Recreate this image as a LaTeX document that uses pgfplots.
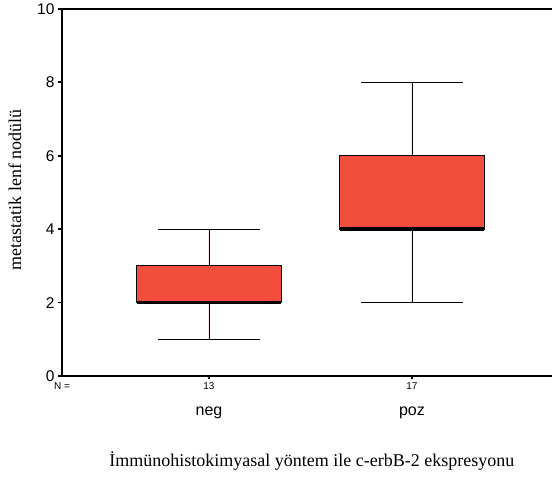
\documentclass[border=0pt]{standalone}
\usepackage{fontspec}
\setmainfont{Liberation Serif}
\setsansfont{Liberation Sans}
\usepackage{pgfplots}
\pgfplotsset{compat=1.18}
\usepgfplotslibrary{statistics}
\definecolor{boxred}{RGB}{242,78,60}
\begin{document}
\begin{tikzpicture}
\begin{axis}[
 at={(0,0)}, anchor=south west,
 scale only axis, width=490pt, height=367pt,
 xmin=0.2759, xmax=2.6897, ymin=0, ymax=10,
 xtick={1,2}, xticklabels={,},
 ytick={0,2,4,6,8,10},
 xtick pos=left, ytick pos=left,
 tick align=outside, major tick length=3.5pt,
 tick style={black, line width=1.8pt},
 axis line style={draw=none},
 clip=false,
 yticklabel style={font=\sffamily\fontsize{15.5}{15.5}\selectfont, xshift=-0.5pt},
 /pgf/number format/assume math mode=true,
 boxplot/draw direction=y,
 boxplot/every median/.style={line width=3.5pt},
 boxplot/every whisker/.style={line width=0.9pt},
 boxplot/every box/.style={line width=0.9pt},
 xlabel={İmmünohistokimyasal yöntem ile c-erbB-2 ekspresyonu},
 ylabel={metastatik lenf nodülü},
 every axis x label/.style={at={(axis description cs:0.510,-0.232)}, anchor=center, font=\fontsize{18}{18}\selectfont},
 every axis y label/.style={at={(axis description cs:-0.096,0.507)}, anchor=center, rotate=90, font=\fontsize{18}{18}\selectfont},
]
\addplot[boxplot prepared={median=2, lower quartile=2, upper quartile=3, lower whisker=1, upper whisker=4, draw position=1, box extend=0.714, whisker extend=0.5}, fill=boxred, draw=black] coordinates {};
\addplot[boxplot prepared={median=4, lower quartile=4, upper quartile=6, lower whisker=2, upper whisker=8, draw position=2, box extend=0.714, whisker extend=0.5}, fill=boxred, draw=black] coordinates {};
\draw[line width=1.2pt] (rel axis cs:1,1) -- (rel axis cs:0,1) -- (rel axis cs:0,0) -- (rel axis cs:1,0);
\node[font=\sffamily\fontsize{10}{10}\selectfont] at (axis cs:0.2759,0) [yshift=-10pt] {N =};
\node[font=\sffamily\fontsize{10}{10}\selectfont] at (axis cs:1,0) [yshift=-10pt] {13};
\node[font=\sffamily\fontsize{10}{10}\selectfont] at (axis cs:2,0) [yshift=-10pt] {17};
\node[font=\sffamily\fontsize{16}{16}\selectfont] at (axis cs:1,0) [yshift=-37pt] {neg};
\node[font=\sffamily\fontsize{16}{16}\selectfont] at (axis cs:2,0) [yshift=-37pt] {poz};
\end{axis}
\pgfresetboundingbox
\path[use as bounding box] (-62pt,-103pt) rectangle (490pt,376pt);
\end{tikzpicture}
\end{document}
